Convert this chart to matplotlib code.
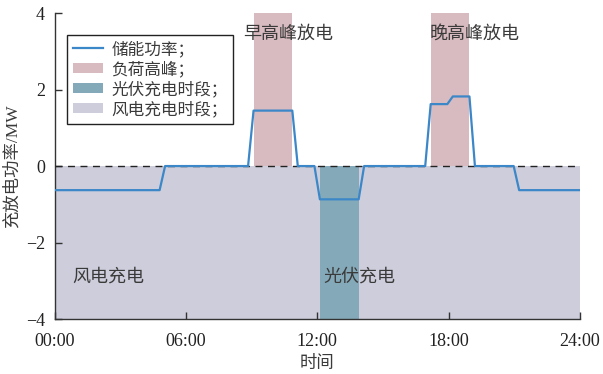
import matplotlib
matplotlib.use("Agg")
import matplotlib.pyplot as plt
from matplotlib.lines import Line2D
from matplotlib.patches import Patch

# Storage power profile over one day (hours, MW)
hours = [0, 4.8, 5.05, 8.84, 9.09, 10.86, 11.11, 11.87, 12.12, 13.89, 14.14,
         16.93, 17.18, 17.94, 18.19, 18.95, 19.2, 20.97, 21.22, 24]
power = [-0.63, -0.63, 0, 0, 1.45, 1.45, 0, 0, -0.87, -0.87, 0,
         0, 1.62, 1.62, 1.82, 1.82, 0, 0, -0.63, -0.63]

# Time windows (hours)
morning_peak = (9.09, 10.86)
evening_peak = (17.18, 18.95)
pv_window = (12.12, 13.89)

xticks = [0, 6, 12, 18, 24]
xticklabels = ["00:00", "06:00", "12:00", "18:00", "24:00"]
yticks = [-4, -2, 0, 2, 4]

legend_labels = ["储能功率；", "负荷高峰；", "光伏充电时段；", "风电充电时段；"]

CJK = ["Noto Sans CJK SC", "DejaVu Sans"]
SERIF = ["Liberation Serif", "DejaVu Serif"]
MIXED = ["Liberation Serif", "Noto Sans CJK SC"]

c_line = "#3c87c8"
c_peak = "#d8bbc0"
c_pv = "#84a9b9"
c_wind = "#cdcddb"
c_text = "#3a3a3a"
c_axis = "#333333"

fig = plt.figure(figsize=(6.03, 3.74), dpi=100)
ax = fig.add_axes([0.0904, 0.147, 0.8715, 0.818])

ax.axhspan(-4, 0, color=c_wind, lw=0, zorder=1)
for a, b in (morning_peak, evening_peak):
    ax.fill_between([a, b], 0, 4, color=c_peak, lw=0, zorder=1)
ax.fill_between(list(pv_window), -4, 0, color=c_pv, lw=0, zorder=2)

ax.axhline(0, color="#222222", lw=1.0, ls=(0, (5, 4)), zorder=3)
ax.plot(hours, power, color=c_line, lw=1.6, zorder=4)

ax.set_xlim(0, 24)
ax.set_ylim(-4, 4)
ax.set_xticks(xticks)
ax.set_xticklabels(xticklabels)
ax.set_yticks(yticks)
ax.set_yticklabels(["\u22124", "\u22122", "0", "2", "4"])
for lab in ax.get_xticklabels() + ax.get_yticklabels():
    lab.set_family(SERIF)
    lab.set_fontsize(13)
    lab.set_color("#222222")
ax.tick_params(direction="in", length=5, width=1, color=c_axis)
ax.tick_params(axis="x", pad=10)
ax.tick_params(axis="y", pad=7)

for s in ("top", "right"):
    ax.spines[s].set_visible(False)
for s in ("left", "bottom"):
    ax.spines[s].set_color(c_axis)
    ax.spines[s].set_linewidth(1.0)

ax.set_xlabel("时间", family=CJK, fontsize=12.5, color=c_text, labelpad=3)
ax.set_ylabel("充放电功率/MW", family=MIXED, fontsize=12.5, color=c_text, labelpad=4)

ax.text(8.6, 3.45, "早高峰放电", family=CJK, fontsize=13, color=c_text,
        va="center", ha="left", zorder=5)
ax.text(17.15, 3.45, "晚高峰放电", family=CJK, fontsize=13, color=c_text,
        va="center", ha="left", zorder=5)
ax.text(0.8, -2.9, "风电充电", family=CJK, fontsize=13, color=c_text,
        va="center", ha="left", zorder=5)
ax.text(12.28, -2.9, "光伏充电", family=CJK, fontsize=13, color=c_text,
        va="center", ha="left", zorder=5)

handles = [
    Line2D([0], [0], color=c_line, lw=1.6),
    Patch(facecolor=c_peak, edgecolor="none"),
    Patch(facecolor=c_pv, edgecolor="none"),
    Patch(facecolor=c_wind, edgecolor="none"),
]
leg = ax.legend(handles, legend_labels, loc="upper left",
                bbox_to_anchor=(0.024, 0.928), prop={"family": CJK, "size": 12},
                frameon=True, fancybox=False, framealpha=1, edgecolor="#222222",
                handlelength=1.8, handleheight=0.6, handletextpad=0.5,
                labelspacing=0.18, borderpad=0.35, borderaxespad=0)
leg.get_frame().set_linewidth(1.0)
for t in leg.get_texts():
    t.set_color(c_text)
leg.set_zorder(6)

fig.savefig("out.png", dpi=100)
